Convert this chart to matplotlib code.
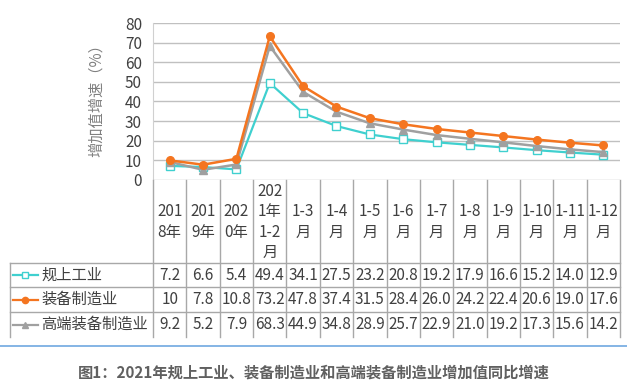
import matplotlib
matplotlib.use("Agg")
import matplotlib.pyplot as plt
from matplotlib.lines import Line2D
import matplotlib.transforms as mtransforms

plt.rcParams['font.family'] = ['Noto Sans CJK SC', 'DejaVu Sans']

categories = ["201\n8年", "201\n9年", "202\n0年", "202\n1年\n1-2\n月", "1-3\n月", "1-4\n月", "1-5\n月",
              "1-6\n月", "1-7\n月", "1-8\n月", "1-9\n月", "1-10\n月", "1-11\n月", "1-12\n月"]
series_names = ["规上工业", "装备制造业", "高端装备制造业"]
industry = [7.2, 6.6, 5.4, 49.4, 34.1, 27.5, 23.2, 20.8, 19.2, 17.9, 16.6, 15.2, 14.0, 12.9]
equipment = [10, 7.8, 10.8, 73.2, 47.8, 37.4, 31.5, 28.4, 26.0, 24.2, 22.4, 20.6, 19.0, 17.6]
high_end = [9.2, 5.2, 7.9, 68.3, 44.9, 34.8, 28.9, 25.7, 22.9, 21.0, 19.2, 17.3, 15.6, 14.2]
table_text = [["7.2", "6.6", "5.4", "49.4", "34.1", "27.5", "23.2", "20.8", "19.2", "17.9", "16.6", "15.2", "14.0", "12.9"],
              ["10", "7.8", "10.8", "73.2", "47.8", "37.4", "31.5", "28.4", "26.0", "24.2", "22.4", "20.6", "19.0", "17.6"],
              ["9.2", "5.2", "7.9", "68.3", "44.9", "34.8", "28.9", "25.7", "22.9", "21.0", "19.2", "17.3", "15.6", "14.2"]]
yticks = [0, 10, 20, 30, 40, 50, 60, 70, 80]
caption = "图1：2021年规上工业、装备制造业和高端装备制造业增加值同比增速"
ylabel = "增加值增速（%）"

W, H = 627, 382
fig = plt.figure(figsize=(W / 100, H / 100), dpi=100)

def fx(x):
    return x / W

def fy(y):
    return 1 - y / H

left, right, top, bottom = 153, 620, 23, 180
ax = fig.add_axes([fx(left), fy(bottom), fx(right) - fx(left), (bottom - top) / H])

colors = ["#3fd0cf", "#f47520", "#a0a0a0"]
xs = list(range(len(categories)))
ax.plot(xs, industry, color=colors[0], lw=1.6, marker="s", ms=5.5, mfc="white", mec=colors[0], mew=1.0, zorder=3)
ax.plot(xs, equipment, color=colors[1], lw=1.8, marker="o", ms=5.5, mfc=colors[1], mec=colors[1], zorder=4)
ax.plot(xs, high_end, color=colors[2], lw=1.8, marker="^", ms=5.5, mfc=colors[2], mec=colors[2], zorder=3)

ax.set_xlim(-0.5, len(categories) - 0.5)
ax.set_ylim(0, 80)
ax.set_yticks(yticks)
ax.set_xticks([])
ax.grid(axis="y", color="#c0c0c0", lw=1.0)
ax.set_axisbelow(True)
for s in ["top", "right", "bottom"]:
    ax.spines[s].set_visible(False)
ax.spines["left"].set_color("#d0d0d0")
ax.tick_params(axis="y", length=0, labelsize=11, labelcolor="#404040", pad=8)

fig.text(fx(96), fy(97), ylabel, rotation=90, ha="center", va="center", fontsize=11, color="#808080")

# table
tr = mtransforms.blended_transform_factory(ax.transData, fig.transFigure)
line_col = "#a8a8a8"
tab_top, hdr_bot, tab_bot = 180, 263, 337
row_edges = [263, 287, 312, 337]
for k in range(len(categories) + 1):
    xb = k - 0.5
    fig.add_artist(Line2D([xb, xb], [fy(tab_top), fy(tab_bot)], transform=tr, color=line_col, lw=1.0))
for yy in row_edges[:-1]:
    fig.add_artist(Line2D([fx(10), fx(right)], [fy(yy), fy(yy)], transform=fig.transFigure, color=line_col, lw=1.0))
fig.add_artist(Line2D([fx(10), fx(10)], [fy(hdr_bot), fy(tab_bot)], transform=fig.transFigure, color=line_col, lw=1.0))

for i, c in enumerate(categories):
    t = fig.text(0, fy(222), c, transform=tr, ha="center", va="center", fontsize=11, color="#404040", linespacing=1.25)
    t.set_x(i)

markers = ["s", "o", "^"]
for r in range(3):
    yc = (row_edges[r] + row_edges[r + 1]) / 2
    fig.add_artist(Line2D([fx(13), fx(38)], [fy(yc), fy(yc)], transform=fig.transFigure, color=colors[r], lw=1.6))
    mfc = "white" if r == 0 else colors[r]
    fig.add_artist(Line2D([fx(25.5)], [fy(yc)], transform=fig.transFigure, marker=markers[r], ms=4.5,
                          mfc=mfc, mec=colors[r], lw=0))
    fig.text(fx(41), fy(yc), series_names[r], ha="left", va="center", fontsize=11, color="#404040")
    for i, v in enumerate(table_text[r]):
        t = fig.text(0, fy(yc), v, transform=tr, ha="center", va="center", fontsize=11, color="#404040")
        t.set_x(i)

fig.add_artist(Line2D([0, 1], [fy(346), fy(346)], transform=fig.transFigure, color="#6fa8e0", lw=1.2))
fig.text(fx(314), fy(373), caption, ha="center", va="center", fontsize=11, fontweight="bold", color="#606060")

fig.savefig("out.png", dpi=100)
